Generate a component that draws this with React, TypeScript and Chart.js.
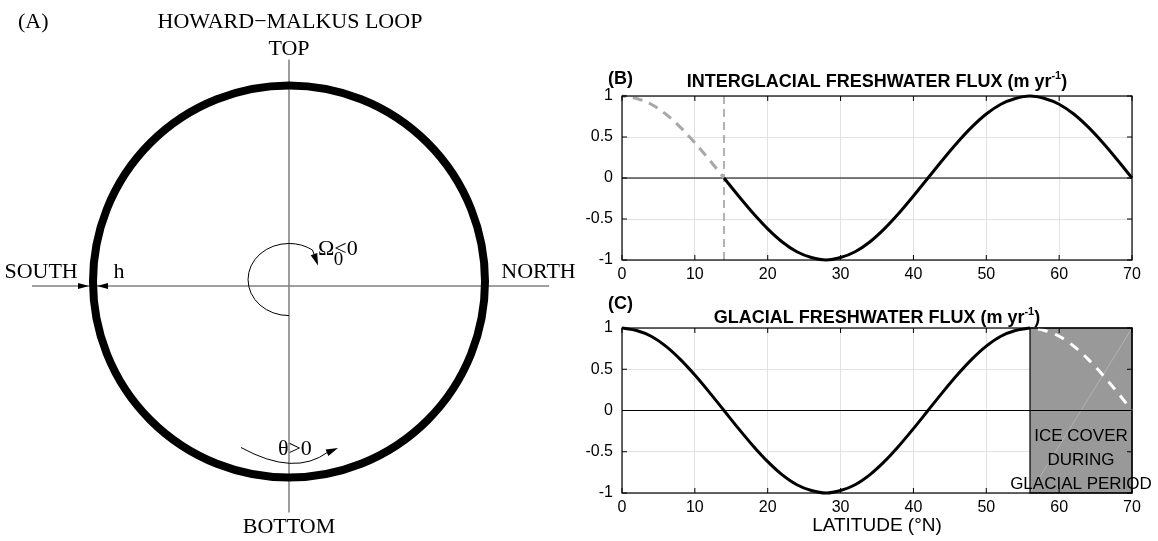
import React, { useEffect, useRef } from "react";
import { Chart, registerables } from "chart.js";
Chart.register(...registerables);

const SERIF = '"Liberation Serif", "Times New Roman", serif';
const SANS = '"Liberation Sans", Arial, Helvetica, sans-serif';

// ---------------- Panel (B) / (C) data ----------------
const latTicks = [0, 10, 20, 30, 40, 50, 60, 70];
const fluxTicks = [-1, -0.5, 0, 0.5, 1];

const interglacialLat = [14, 16, 18, 20, 22, 24, 26, 28, 30, 32, 34, 36, 38, 40, 42, 44, 46, 48, 50, 52, 54, 56, 58, 60, 62, 64, 66, 68, 70];
const interglacialFlux = [0, -0.22, -0.43, -0.62, -0.78, -0.9, -0.97, -1, -0.97, -0.9, -0.78, -0.62, -0.43, -0.22, 0, 0.22, 0.43, 0.62, 0.78, 0.9, 0.97, 1, 0.97, 0.9, 0.78, 0.62, 0.43, 0.22, 0];
const interglacialHiddenLat = [0, 2, 4, 6, 8, 10, 12, 14];
const interglacialHiddenFlux = [1, 0.97, 0.9, 0.78, 0.62, 0.43, 0.22, 0];
const interglacialCutoff = 14;

const glacialLat = [0, 2, 4, 6, 8, 10, 12, 14, 16, 18, 20, 22, 24, 26, 28, 30, 32, 34, 36, 38, 40, 42, 44, 46, 48, 50, 52, 54, 56];
const glacialFlux = [1, 0.97, 0.9, 0.78, 0.62, 0.43, 0.22, 0, -0.22, -0.43, -0.62, -0.78, -0.9, -0.97, -1, -0.97, -0.9, -0.78, -0.62, -0.43, -0.22, 0, 0.22, 0.43, 0.62, 0.78, 0.9, 0.97, 1];
const glacialHiddenLat = [56, 58, 60, 62, 64, 66, 68, 70];
const glacialHiddenFlux = [1, 0.97, 0.9, 0.78, 0.62, 0.43, 0.22, 0];
const iceCoverStart = 56;
const iceCoverEnd = 70;
const iceCoverLabel = ["ICE COVER", "DURING", "GLACIAL PERIOD"];

const titleB = ["INTERGLACIAL FRESHWATER FLUX (m yr", "-1", ")"];
const titleC = ["GLACIAL FRESHWATER FLUX (m yr", "-1", ")"];
const xAxisTitle = "LATITUDE (°N)";

// ---------------- Panel (A) diagram ----------------
const loopTitle = "HOWARD\u2212MALKUS LOOP";
const loopRadius = 1;
const axisHorizontal = [{ x: -1.311, y: -0.023 }, { x: 1.327, y: -0.023 }];
const axisVertical = [{ x: 0, y: 1.133 }, { x: 0, y: -1.179 }];

const pts = (xs: number[], ys: number[]) => xs.map((x, i) => ({ x, y: ys[i] }));

function arrowHead(ctx: CanvasRenderingContext2D, fx: number, fy: number, tx: number, ty: number, len: number, wid: number) {
  const d = Math.hypot(tx - fx, ty - fy) || 1;
  const ux = (tx - fx) / d, uy = (ty - fy) / d;
  const bx = tx - ux * len, by = ty - uy * len;
  ctx.beginPath();
  ctx.moveTo(tx, ty);
  ctx.lineTo(bx - uy * wid / 2, by + ux * wid / 2);
  ctx.lineTo(bx + uy * wid / 2, by - ux * wid / 2);
  ctx.closePath();
  ctx.fill();
}

const diagramPlugin = {
  id: "diagram",
  afterDatasetsDraw(chart: any) {
    const { ctx, scales } = chart;
    const px = (v: number) => scales.x.getPixelForValue(v);
    const py = (v: number) => scales.y.getPixelForValue(v);
    const unit = px(1) - px(0);
    ctx.save();
    // loop
    ctx.strokeStyle = "#000";
    ctx.lineWidth = 8;
    ctx.beginPath();
    ctx.arc(px(0), py(0), loopRadius * unit, 0, Math.PI * 2);
    ctx.stroke();

    ctx.fillStyle = "#000";
    // h arrows
    const edge = px(-loopRadius);
    const hy = py(axisHorizontal[0].y);
    arrowHead(ctx, edge - 20, hy, edge - 4, hy, 11, 6);
    arrowHead(ctx, edge + 20, hy, edge + 4, hy, 11, 6);

    // Omega arc
    ctx.lineWidth = 1;
    ctx.strokeStyle = "#000";
    const ecx = px(0), ecy = py(0.01), rx = 0.209 * unit, ry = 0.184 * unit;
    const endA = (305 * Math.PI) / 180;
    ctx.beginPath();
    ctx.ellipse(ecx, ecy, rx, ry, 0, Math.PI / 2, endA, false);
    const ex = ecx + rx * Math.cos(endA), ey = ecy + ry * Math.sin(endA);
    const otx = px(0.148), oty = py(0.082);
    ctx.lineTo(ex + (otx - ex) * 0.3, ey + (oty - ey) * 0.3);
    ctx.stroke();
    arrowHead(ctx, ex, ey, otx, oty, 12, 7);

    // theta arc
    const p0x = px(-0.245), p0y = py(-0.847);
    const cx = px(0.028), cy = py(-0.997);
    const p2x = px(0.199), p2y = py(-0.87);
    const ttx = px(0.25), tty = py(-0.849);
    ctx.beginPath();
    ctx.moveTo(p0x, p0y);
    ctx.quadraticCurveTo(cx, cy, p2x, p2y);
    ctx.stroke();
    arrowHead(ctx, p2x - 3, p2y + 1.5, ttx, tty, 12, 7);

    // texts
    ctx.fillStyle = "#000";
    ctx.textBaseline = "alphabetic";
    ctx.font = `22px ${SERIF}`;
    ctx.textAlign = "left";
    ctx.fillText("(A)", px(-1.383), py(1.293));
    ctx.textAlign = "center";
    ctx.fillText(loopTitle, px(0.005), py(1.293));
    ctx.fillText("TOP", px(0), py(1.158));
    ctx.fillText("BOTTOM", px(0), py(-1.282));
    ctx.textAlign = "left";
    ctx.fillText("SOUTH", px(-1.452), py(0.018));
    ctx.fillText("NORTH", px(1.083), py(0.018));
    ctx.fillText("h", px(-0.895), py(0.018));
    ctx.fillText("\u03A9<0", px(0.148), py(0.135));
    ctx.font = `19px ${SERIF}`;
    ctx.fillText("0", px(0.228), py(0.085));
    ctx.font = `22px ${SERIF}`;
    ctx.textAlign = "center";
    ctx.fillText("\u03B8>0", px(0.03), py(-0.886));
    ctx.restore();
  },
};

function drawTitle(ctx: CanvasRenderingContext2D, cx: number, y: number, parts: string[], size: number) {
  const big = `bold ${size}px ${SANS}`;
  const small = `bold ${Math.round(size * 0.62)}px ${SANS}`;
  ctx.font = big;
  const w1 = ctx.measureText(parts[0]).width;
  const w3 = ctx.measureText(parts[2]).width;
  ctx.font = small;
  const w2 = ctx.measureText(parts[1]).width;
  let x = cx - (w1 + w2 + w3) / 2;
  ctx.textAlign = "left";
  ctx.textBaseline = "alphabetic";
  ctx.font = big;
  ctx.fillText(parts[0], x, y);
  x += w1;
  ctx.font = small;
  ctx.fillText(parts[1], x, y - size * 0.42);
  x += w2;
  ctx.font = big;
  ctx.fillText(parts[2], x, y);
}

const framePlugin = {
  id: "frame",
  afterDraw(chart: any) {
    const { ctx, chartArea: a, scales } = chart;
    ctx.save();
    ctx.strokeStyle = "#000";
    ctx.lineWidth = 1.2;
    ctx.strokeRect(a.left, a.top, a.right - a.left, a.bottom - a.top);
    ctx.lineWidth = 1;
    ctx.beginPath();
    latTicks.forEach((v) => {
      const X = scales.x.getPixelForValue(v);
      ctx.moveTo(X, a.bottom);
      ctx.lineTo(X, a.bottom - 5);
      ctx.moveTo(X, a.top);
      ctx.lineTo(X, a.top + 5);
    });
    fluxTicks.forEach((v) => {
      const Y = scales.y.getPixelForValue(v);
      ctx.moveTo(a.left, Y);
      ctx.lineTo(a.left + 5, Y);
      ctx.moveTo(a.right, Y);
      ctx.lineTo(a.right - 5, Y);
    });
    ctx.stroke();
    ctx.restore();
  },
};

function lineDs(data: any[], color: string, width: number, dash: number[] = [], smooth = true, dashOffset = 0) {
  return {
    data,
    showLine: true,
    borderColor: color,
    borderWidth: width,
    borderDash: dash,
    borderDashOffset: dashOffset,
    pointRadius: 0,
    cubicInterpolationMode: smooth ? "monotone" : "default",
    tension: 0,
    clip: false,
    borderCapStyle: "butt",
  };
}

function fluxChart(canvas: HTMLCanvasElement, datasets: any[], top: number, xH: number, extra: any) {
  return new Chart(canvas, {
    type: "scatter",
    data: { datasets },
    options: {
      animation: false,
      responsive: false,
      maintainAspectRatio: false,
      layout: { padding: { top, right: 26, left: 0, bottom: 0 } },
      plugins: { legend: { display: false }, tooltip: { enabled: false } },
      scales: {
        x: {
          type: "linear",
          min: 0,
          max: 70,
          afterBuildTicks: (s: any) => {
            s.ticks = latTicks.map((v) => ({ value: v }));
          },
          afterFit: (s: any) => {
            s.height = xH;
          },
          grid: { color: "#e2e2e2", drawTicks: false, lineWidth: 1 },
          border: { display: false },
          ticks: { color: "#000", font: { family: SANS, size: 16 }, padding: 5, maxRotation: 0, autoSkip: false },
        },
        y: {
          type: "linear",
          min: -1,
          max: 1,
          afterBuildTicks: (s: any) => {
            s.ticks = fluxTicks.map((v) => ({ value: v }));
          },
          afterFit: (s: any) => {
            s.width = 42;
          },
          grid: { color: "#e2e2e2", drawTicks: false, lineWidth: 1 },
          border: { display: false },
          ticks: { color: "#000", font: { family: SANS, size: 16 }, padding: 9, callback: (v: any) => String(v) },
        },
      },
    } as any,
    plugins: [framePlugin, extra],
  });
}

export default function App() {
  const refA = useRef<HTMLCanvasElement>(null);
  const refB = useRef<HTMLCanvasElement>(null);
  const refC = useRef<HTMLCanvasElement>(null);

  useEffect(() => {
    const chartA = new Chart(refA.current!, {
      type: "scatter",
      data: {
        datasets: [
          lineDs(axisHorizontal, "#7f7f7f", 1.5, [], false),
          lineDs(axisVertical, "#7f7f7f", 1.5, [], false),
        ],
      },
      options: {
        animation: false,
        responsive: false,
        maintainAspectRatio: false,
        layout: { padding: 0 },
        plugins: { legend: { display: false }, tooltip: { enabled: false } },
        scales: {
          x: { type: "linear", min: -289 / 196, max: 291 / 196, display: false },
          y: { type: "linear", min: -259.5 / 196, max: 281.5 / 196, display: false },
        },
      } as any,
      plugins: [diagramPlugin],
    });

    const chartB = fluxChart(
      refB.current!,
      [
        lineDs(pts(interglacialLat, interglacialFlux), "#000", 3),
        lineDs(pts(interglacialHiddenLat, interglacialHiddenFlux), "#a8a8a8", 3, [10, 7], true, 6),
        lineDs(pts([interglacialCutoff, interglacialCutoff], [-1, 1]), "#9a9a9a", 1.5, [8, 5], false),
        lineDs(pts([0, 70], [0, 0]), "#000", 1.2, [], false),
      ],
      40,
      30,
      {
        id: "titleB",
        afterDraw(chart: any) {
          const { ctx, chartArea: a } = chart;
          ctx.save();
          ctx.fillStyle = "#000";
          ctx.font = `bold 18px ${SANS}`;
          ctx.textAlign = "left";
          ctx.textBaseline = "alphabetic";
          ctx.fillText("(B)", 28, 28);
          drawTitle(ctx, (a.left + a.right) / 2, 31, titleB, 18);
          ctx.restore();
        },
      }
    );

    const chartC = fluxChart(
      refC.current!,
      [
        lineDs(pts(glacialHiddenLat, glacialHiddenFlux), "#ffffff", 3, [10, 8], true, 10),
        lineDs(pts(glacialLat, glacialFlux), "#000", 3),
        lineDs(pts([0, 70], [0, 0]), "#000", 1.2, [], false),
      ],
      38,
      48,
      {
        id: "iceC",
        beforeDatasetsDraw(chart: any) {
          const { ctx, scales } = chart;
          const l = scales.x.getPixelForValue(iceCoverStart);
          const r = scales.x.getPixelForValue(iceCoverEnd);
          const t = scales.y.getPixelForValue(1);
          const b = scales.y.getPixelForValue(-1);
          ctx.save();
          ctx.fillStyle = "#999999";
          ctx.fillRect(l, t, r - l, b - t);
          ctx.strokeStyle = "rgba(255,255,255,0.35)";
          ctx.lineWidth = 0.7;
          ctx.beginPath();
          ctx.moveTo(l, b);
          ctx.lineTo(r, t);
          ctx.stroke();
          ctx.strokeStyle = "#000";
          ctx.lineWidth = 1.2;
          ctx.strokeRect(l, t, r - l, b - t);
          ctx.restore();
        },
        afterDraw(chart: any) {
          const { ctx, chartArea: a, scales } = chart;
          ctx.save();
          ctx.fillStyle = "#000";
          ctx.textBaseline = "middle";
          ctx.textAlign = "center";
          ctx.font = `17px ${SANS}`;
          const cx = (scales.x.getPixelForValue(iceCoverStart) + scales.x.getPixelForValue(iceCoverEnd)) / 2;
          const y0 = scales.y.getPixelForValue(0);
          iceCoverLabel.forEach((s, i) => ctx.fillText(s, cx, y0 + 26 + i * 24));
          ctx.font = `19px ${SANS}`;
          ctx.fillText(xAxisTitle, (a.left + a.right) / 2, 236);
          ctx.font = `bold 18px ${SANS}`;
          ctx.textAlign = "left";
          ctx.textBaseline = "alphabetic";
          ctx.fillText("(C)", 28, 19);
          drawTitle(ctx, (a.left + a.right) / 2, 33, titleC, 18);
          ctx.restore();
        },
      }
    );

    return () => {
      chartA.destroy();
      chartB.destroy();
      chartC.destroy();
    };
  }, []);

  return (
    <div style={{ position: "absolute", left: 0, top: 0, width: 1158, height: 541, background: "#fff" }}>
      <canvas ref={refA} width={580} height={541} style={{ position: "absolute", left: 0, top: 0 }} />
      <canvas ref={refB} width={578} height={234} style={{ position: "absolute", left: 580, top: 56 }} />
      <canvas ref={refC} width={578} height={251} style={{ position: "absolute", left: 580, top: 290 }} />
    </div>
  );
}
